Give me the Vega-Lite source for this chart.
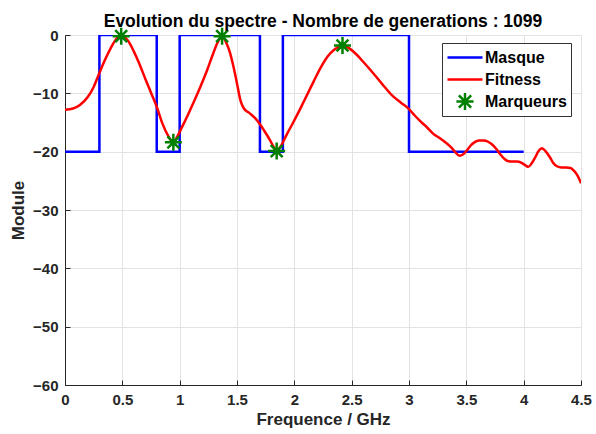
{
  "$schema": "https://vega.github.io/schema/vega-lite/v6.json",
  "width": 516,
  "height": 350,
  "autosize": "none",
  "padding": {"left": 65, "top": 35, "right": 15, "bottom": 49},
  "background": "white",
  "config": {
    "font": "Liberation Sans",
    "view": {"stroke": "#d9d9d9", "strokeWidth": 1},
    "axis": {
      "gridColor": "#e3e3e3",
      "gridWidth": 1,
      "domainColor": "#262626",
      "tickColor": "#262626",
      "labelFont": "Liberation Sans",
      "labelFontWeight": "bold",
      "labelFontSize": 15,
      "labelColor": "#262626",
      "titleFont": "Liberation Sans",
      "titleFontWeight": "bold",
      "titleFontSize": 17,
      "titleColor": "#262626"
    }
  },
  "title": {
    "text": "Evolution du spectre - Nombre de generations : 1099",
    "font": "Liberation Sans",
    "fontWeight": "bold",
    "fontSize": 17.5,
    "color": "#000000",
    "offset": -8
  },
  "datasets": {
    "mask": [
      {"i": 0, "f": 0, "v": -20, "s": "Masque"},
      {"i": 1, "f": 0.3, "v": -20, "s": "Masque"},
      {"i": 2, "f": 0.3, "v": 0, "s": "Masque"},
      {"i": 3, "f": 0.8, "v": 0, "s": "Masque"},
      {"i": 4, "f": 0.8, "v": -20, "s": "Masque"},
      {"i": 5, "f": 1.0, "v": -20, "s": "Masque"},
      {"i": 6, "f": 1.0, "v": 0, "s": "Masque"},
      {"i": 7, "f": 1.7, "v": 0, "s": "Masque"},
      {"i": 8, "f": 1.7, "v": -20, "s": "Masque"},
      {"i": 9, "f": 1.9, "v": -20, "s": "Masque"},
      {"i": 10, "f": 1.9, "v": 0, "s": "Masque"},
      {"i": 11, "f": 3.0, "v": 0, "s": "Masque"},
      {"i": 12, "f": 3.0, "v": -20, "s": "Masque"},
      {"i": 13, "f": 4.0, "v": -20, "s": "Masque"}
    ],
    "fit": [
      {"f": 0, "v": -12.8, "s": "Fitness"},
      {"f": 0.07, "v": -12.6, "s": "Fitness"},
      {"f": 0.13, "v": -12.0, "s": "Fitness"},
      {"f": 0.2, "v": -10.6, "s": "Fitness"},
      {"f": 0.25, "v": -8.9, "s": "Fitness"},
      {"f": 0.3, "v": -6.5, "s": "Fitness"},
      {"f": 0.35, "v": -4.2, "s": "Fitness"},
      {"f": 0.4, "v": -2.2, "s": "Fitness"},
      {"f": 0.45, "v": -0.6, "s": "Fitness"},
      {"f": 0.49, "v": -0.1, "s": "Fitness"},
      {"f": 0.55, "v": -1.0, "s": "Fitness"},
      {"f": 0.6, "v": -2.8, "s": "Fitness"},
      {"f": 0.65, "v": -5.0, "s": "Fitness"},
      {"f": 0.7, "v": -7.5, "s": "Fitness"},
      {"f": 0.75, "v": -9.9, "s": "Fitness"},
      {"f": 0.8, "v": -12.3, "s": "Fitness"},
      {"f": 0.85, "v": -15.2, "s": "Fitness"},
      {"f": 0.9, "v": -17.3, "s": "Fitness"},
      {"f": 0.945, "v": -18.4, "s": "Fitness"},
      {"f": 0.98, "v": -17.4, "s": "Fitness"},
      {"f": 1.02, "v": -15.8, "s": "Fitness"},
      {"f": 1.06, "v": -14.2, "s": "Fitness"},
      {"f": 1.12, "v": -11.6, "s": "Fitness"},
      {"f": 1.18, "v": -8.9, "s": "Fitness"},
      {"f": 1.24, "v": -6.0, "s": "Fitness"},
      {"f": 1.29, "v": -3.3, "s": "Fitness"},
      {"f": 1.33, "v": -1.3, "s": "Fitness"},
      {"f": 1.37, "v": -0.2, "s": "Fitness"},
      {"f": 1.41, "v": -1.5, "s": "Fitness"},
      {"f": 1.44, "v": -3.1, "s": "Fitness"},
      {"f": 1.47, "v": -5.5, "s": "Fitness"},
      {"f": 1.5, "v": -8.3, "s": "Fitness"},
      {"f": 1.53, "v": -11.2, "s": "Fitness"},
      {"f": 1.56, "v": -12.6, "s": "Fitness"},
      {"f": 1.61, "v": -13.4, "s": "Fitness"},
      {"f": 1.66, "v": -14.3, "s": "Fitness"},
      {"f": 1.7, "v": -15.3, "s": "Fitness"},
      {"f": 1.75, "v": -16.8, "s": "Fitness"},
      {"f": 1.79, "v": -18.1, "s": "Fitness"},
      {"f": 1.82, "v": -19.2, "s": "Fitness"},
      {"f": 1.846, "v": -19.9, "s": "Fitness"},
      {"f": 1.89, "v": -18.8, "s": "Fitness"},
      {"f": 1.93, "v": -17.2, "s": "Fitness"},
      {"f": 1.99, "v": -15.0, "s": "Fitness"},
      {"f": 2.05, "v": -12.7, "s": "Fitness"},
      {"f": 2.11, "v": -10.3, "s": "Fitness"},
      {"f": 2.17, "v": -7.9, "s": "Fitness"},
      {"f": 2.23, "v": -5.6, "s": "Fitness"},
      {"f": 2.29, "v": -3.7, "s": "Fitness"},
      {"f": 2.35, "v": -2.5, "s": "Fitness"},
      {"f": 2.42, "v": -1.8, "s": "Fitness"},
      {"f": 2.48, "v": -2.3, "s": "Fitness"},
      {"f": 2.54, "v": -3.3, "s": "Fitness"},
      {"f": 2.61, "v": -4.8, "s": "Fitness"},
      {"f": 2.69, "v": -6.6, "s": "Fitness"},
      {"f": 2.77, "v": -8.5, "s": "Fitness"},
      {"f": 2.85, "v": -10.3, "s": "Fitness"},
      {"f": 2.93, "v": -11.6, "s": "Fitness"},
      {"f": 3.0, "v": -12.7, "s": "Fitness"},
      {"f": 3.05, "v": -13.8, "s": "Fitness"},
      {"f": 3.1, "v": -14.8, "s": "Fitness"},
      {"f": 3.16, "v": -15.9, "s": "Fitness"},
      {"f": 3.21, "v": -16.9, "s": "Fitness"},
      {"f": 3.27, "v": -17.7, "s": "Fitness"},
      {"f": 3.33, "v": -18.6, "s": "Fitness"},
      {"f": 3.37, "v": -19.3, "s": "Fitness"},
      {"f": 3.4, "v": -20.0, "s": "Fitness"},
      {"f": 3.44, "v": -20.7, "s": "Fitness"},
      {"f": 3.47, "v": -20.5, "s": "Fitness"},
      {"f": 3.5, "v": -19.9, "s": "Fitness"},
      {"f": 3.54, "v": -18.9, "s": "Fitness"},
      {"f": 3.57, "v": -18.4, "s": "Fitness"},
      {"f": 3.61, "v": -18.1, "s": "Fitness"},
      {"f": 3.65, "v": -18.1, "s": "Fitness"},
      {"f": 3.69, "v": -18.3, "s": "Fitness"},
      {"f": 3.72, "v": -18.7, "s": "Fitness"},
      {"f": 3.76, "v": -19.5, "s": "Fitness"},
      {"f": 3.79, "v": -20.3, "s": "Fitness"},
      {"f": 3.83, "v": -21.2, "s": "Fitness"},
      {"f": 3.86, "v": -21.6, "s": "Fitness"},
      {"f": 3.9, "v": -21.7, "s": "Fitness"},
      {"f": 3.94, "v": -21.7, "s": "Fitness"},
      {"f": 3.98, "v": -21.9, "s": "Fitness"},
      {"f": 4.02, "v": -22.4, "s": "Fitness"},
      {"f": 4.04, "v": -22.6, "s": "Fitness"},
      {"f": 4.07, "v": -22.0, "s": "Fitness"},
      {"f": 4.1, "v": -21.0, "s": "Fitness"},
      {"f": 4.13, "v": -19.9, "s": "Fitness"},
      {"f": 4.16, "v": -19.4, "s": "Fitness"},
      {"f": 4.19, "v": -19.9, "s": "Fitness"},
      {"f": 4.23, "v": -21.0, "s": "Fitness"},
      {"f": 4.26, "v": -22.0, "s": "Fitness"},
      {"f": 4.29, "v": -22.5, "s": "Fitness"},
      {"f": 4.33, "v": -22.7, "s": "Fitness"},
      {"f": 4.37, "v": -22.7, "s": "Fitness"},
      {"f": 4.41, "v": -22.8, "s": "Fitness"},
      {"f": 4.44, "v": -23.3, "s": "Fitness"},
      {"f": 4.47, "v": -24.1, "s": "Fitness"},
      {"f": 4.5, "v": -25.4, "s": "Fitness"}
    ],
    "marks": [
      {"f": 0.49, "v": -0.2, "s": "Marqueurs"},
      {"f": 0.945, "v": -18.4, "s": "Marqueurs"},
      {"f": 1.37, "v": -0.2, "s": "Marqueurs"},
      {"f": 1.846, "v": -19.9, "s": "Marqueurs"},
      {"f": 2.42, "v": -1.8, "s": "Marqueurs"}
    ]
  },
  "encoding": {
    "x": {
      "field": "f",
      "type": "quantitative",
      "title": "Frequence / GHz",
      "scale": {"domain": [0, 4.5], "nice": false, "zero": false},
      "axis": {"values": [0, 0.5, 1, 1.5, 2, 2.5, 3, 3.5, 4, 4.5], "format": "~g", "tickSize": -5, "labelPadding": 12, "titlePadding": 4, "labelFlush": false}
    },
    "y": {
      "field": "v",
      "type": "quantitative",
      "title": "Module",
      "scale": {"domain": [-60, 0], "nice": false, "zero": false},
      "axis": {"values": [-60, -50, -40, -30, -20, -10, 0], "tickSize": -5, "labelPadding": 12, "titlePadding": 5, "labelFlush": false}
    },
    "color": {
      "field": "s",
      "type": "nominal",
      "scale": {"domain": ["Masque", "Fitness", "Marqueurs"], "range": ["#0000ff", "#ff0000", "#008000"]},
      "legend": {
        "title": null,
        "orient": "none",
        "legendX": 377,
        "legendY": 8,
        "strokeColor": "#333333",
        "fillColor": "white",
        "padding": 4,
        "labelFont": "Liberation Sans",
        "labelFontWeight": "bold",
        "labelFontSize": 16,
        "labelColor": "#000000",
        "symbolType": "stroke",
        "symbolSize": 1225,
        "symbolStrokeWidth": 2.5,
        "labelOffset": 1,
        "rowPadding": 1,
        "clipHeight": 21,
        "encode": {
          "symbols": {
            "update": {
              "shape": {"signal": "datum.value === 'Marqueurs' ? 'M-0.49,0L0.49,0M0,-0.49L0,0.49M-0.35,-0.35L0.35,0.35M-0.35,0.35L0.35,-0.35' : 'M-1,0L1,0'"},
              "x": {"value": 19},
              "strokeWidth": {"value": 2.5}
            }
          }
        }
      }
    }
  },
  "layer": [
    {
      "data": {"name": "mask"},
      "mark": {"type": "line", "strokeWidth": 2.5, "clip": true},
      "encoding": {"order": {"field": "i", "type": "quantitative"}}
    },
    {
      "data": {"name": "fit"},
      "mark": {"type": "line", "strokeWidth": 2.5, "interpolate": "monotone", "clip": true}
    },
    {
      "data": {"name": "marks"},
      "mark": {"type": "point", "shape": "M-1,0L1,0M0,-1L0,1M-0.7,-0.7L0.7,0.7M-0.7,0.7L0.7,-0.7", "size": 289, "filled": false, "strokeWidth": 2.5, "opacity": 1}
    }
  ]
}
